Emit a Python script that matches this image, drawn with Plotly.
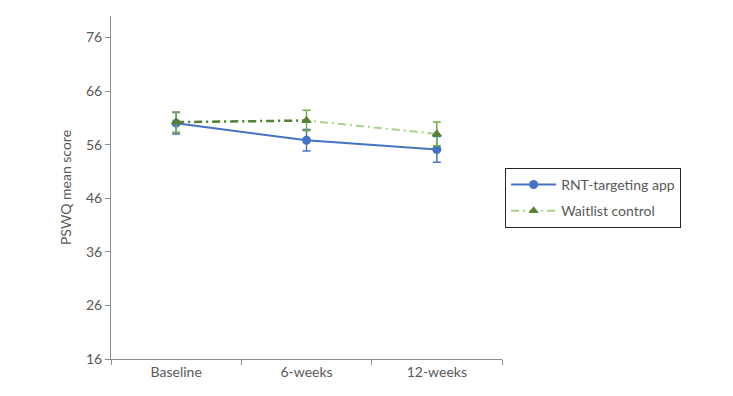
import plotly.graph_objects as go

categories = ["Baseline", "6-weeks", "12-weeks"]
app_means = [60.0, 56.8, 55.1]
app_err = [2.0, 2.0, 2.4]
ctrl_means = [60.2, 60.5, 58.0]
ctrl_err = [1.9, 1.9, 2.2]
y_ticks = [16, 26, 36, 46, 56, 66, 76]

BLUE = "#4472C4"
DKGREEN = "#548235"
LTGREEN = "#A9D18E"
ERRGREEN = "#70AD47"
FONT = "Lato, Open Sans, sans-serif"
TXT = "#595959"

fig = go.Figure()
fig.add_trace(go.Scatter(
    x=categories, y=app_means, name="RNT-targeting app", mode="lines+markers",
    legendgroup="a",
    line=dict(color=BLUE, width=2),
    marker=dict(color=BLUE, size=9, symbol="circle"),
    error_y=dict(type="data", array=app_err, color=BLUE, thickness=1.5, width=4),
))
fig.add_trace(go.Scatter(
    x=categories, y=ctrl_means, name="Waitlist control", mode="lines+markers",
    legendgroup="b",
    line=dict(color=LTGREEN, width=2, dash="8px,4px,2px,4px"),
    marker=dict(color=DKGREEN, size=9, symbol="triangle-up"),
    error_y=dict(type="data", array=ctrl_err, color=ERRGREEN, thickness=1.5, width=4),
))
fig.add_trace(go.Scatter(
    x=categories[:2], y=ctrl_means[:2], mode="lines", showlegend=False, hoverinfo="skip",
    legendgroup="b",
    line=dict(color=DKGREEN, width=2.5, dash="8px,4px,2px,4px"),
))
fig.add_trace(go.Scatter(
    x=categories, y=ctrl_means, mode="markers", showlegend=False,
    legendgroup="b",
    marker=dict(color=DKGREEN, size=9, symbol="triangle-up"),
))

fig.update_layout(
    width=733, height=396,
    margin=dict(l=103, r=239, t=8, b=45),
    paper_bgcolor="white", plot_bgcolor="white",
    font=dict(family=FONT, size=14, color=TXT),
    legend=dict(
        x=1.008, y=0.557, xanchor="left", yanchor="top",
        bordercolor="#262626", borderwidth=1, bgcolor="white",
        font=dict(family=FONT, size=14, color=TXT),
        itemwidth=45, tracegroupgap=5,
    ),
    showlegend=True,
)
fig.update_xaxes(
    type="category", range=[-0.5, 2.5],
    showline=True, linecolor="#8c8c8c", linewidth=1,
    ticks="outside", tickson="boundaries", ticklen=5, tickcolor="#8c8c8c",
    showgrid=False, zeroline=False,
    tickfont=dict(family=FONT, size=14, color=TXT),
)
fig.update_yaxes(
    range=[16, 80], tickvals=y_ticks,
    showline=True, linecolor="#8c8c8c", linewidth=1,
    ticks="outside", ticklen=5, tickcolor="#8c8c8c",
    showgrid=False, zeroline=False,
    title=dict(text="PSWQ mean score", font=dict(family=FONT, size=14, color=TXT), standoff=11),
    tickfont=dict(family=FONT, size=14, color=TXT),
)

fig.write_html("out.html")
